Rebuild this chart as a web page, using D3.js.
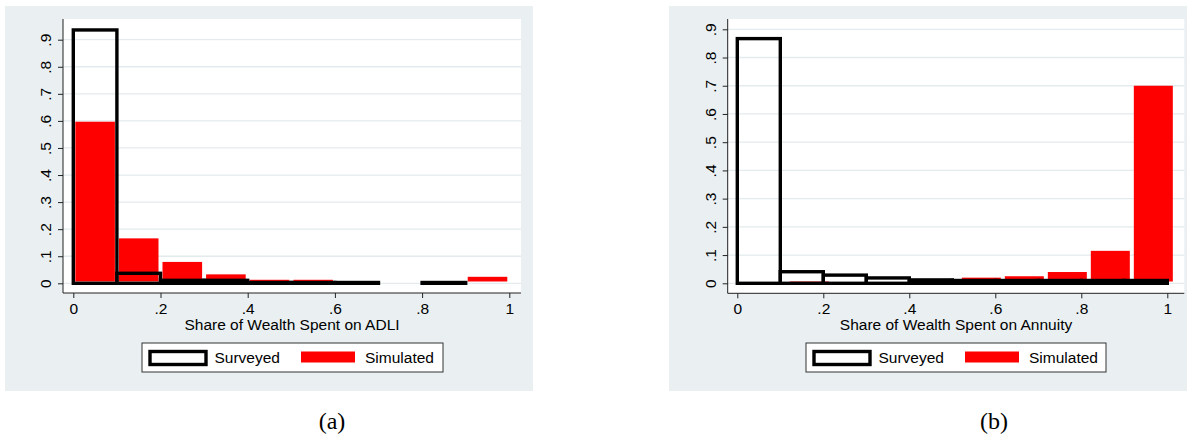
<!DOCTYPE html>
<html>
<head>
<meta charset="utf-8">
<script src="https://cdn.jsdelivr.net/npm/d3@7"></script>
<style>
	body { margin: 0; background: #fff; }
	text { font-family: "Liberation Sans", Arial, sans-serif; fill: #000; }
	.caption { font-family: "Liberation Serif", "Times New Roman", serif; }
</style>
</head>
<body>
<div id="chart"></div>
<script>

// bins (lower edges, width 0.1)
const binStarts = [0, 0.1, 0.2, 0.3, 0.4, 0.5, 0.6, 0.7, 0.8, 0.9];
const simBinStartsB = [0.0175, 0.1175, 0.2175, 0.3175, 0.4175, 0.5175, 0.6175, 0.7175, 0.8175, 0.9175];
const binWidth = 0.1;

// panel (a): ADLI
const surveyedA = [0.936, 0.037, 0.011, 0.011, 0.003, 0.003, 0.003, 0, 0.003, 0];
const simulatedA = [0.597, 0.166, 0.079, 0.033, 0.013, 0.013, 0.004, 0, 0, 0.024];

// panel (b): annuity
const surveyedB = [0.867, 0.041, 0.029, 0.019, 0.012, 0.01, 0.01, 0.01, 0.01, 0.01];
const simulatedB = [0.002, 0.008, 0.004, 0.006, 0.008, 0.02, 0.025, 0.04, 0.115, 0.70];

// axes
const yTicks = [0, 0.1, 0.2, 0.3, 0.4, 0.5, 0.6, 0.7, 0.8, 0.9];
const yTickLabels = ["0", ".1", ".2", ".3", ".4", ".5", ".6", ".7", ".8", ".9"];
const xTicks = [0, 0.2, 0.4, 0.6, 0.8, 1];
const xTickLabels = ["0", ".2", ".4", ".6", ".8", "1"];
const legendLabels = ["Surveyed", "Simulated"];

const width = 1187;
const height = 438;

const svg = d3.select("#chart")
	.append("svg")
		.attr("width", width)
		.attr("height", height);

drawPanel({
	bg: [5, 6, 528, 385],
	plot: [63, 19, 521, 293],
	xRange: [73.3, 509.3],
	yRange: [283.3, 39.7],
	surveyed: surveyedA,
	simulated: simulatedA,
	simStarts: binStarts,
	title: "Share of Wealth Spent on ADLI",
	legend: [141.5, 342.5, 301, 29],
	caption: "(a)",
	captionX: 332
});

drawPanel({
	bg: [669, 6, 530, 385],
	plot: [727.7, 19, 1184.3, 293.3],
	xRange: [737.3, 1167.3],
	yRange: [283.3, 29.3],
	surveyed: surveyedB,
	simulated: simulatedB,
	simStarts: simBinStartsB,
	title: "Share of Wealth Spent on Annuity",
	legend: [805.5, 342.5, 300, 29],
	caption: "(b)",
	captionX: 994
});

function drawPanel(p) {
	const [px0, py0, px1, py1] = p.plot;

	const scaleX = d3.scaleLinear()
		.domain([0, 1])
		.range(p.xRange);

	const scaleY = d3.scaleLinear()
		.domain([0, 0.9])
		.range(p.yRange);

	const g = svg.append("g");

	// graph region and plot region
	g.append("rect")
		.attr("x", p.bg[0]).attr("y", p.bg[1])
		.attr("width", p.bg[2]).attr("height", p.bg[3])
		.attr("fill", "#eaf0f2");

	g.append("rect")
		.attr("x", px0).attr("y", py0)
		.attr("width", px1 - px0).attr("height", py1 - py0)
		.attr("fill", "#fff");

	// grid
	g.selectAll(".grid")
		.data(yTicks).enter()
		.append("line")
			.attr("x1", px0).attr("x2", px1)
			.attr("y1", (d) => scaleY(d)).attr("y2", (d) => scaleY(d))
			.attr("stroke", "#e3ebee")
			.attr("stroke-width", 1.3);

	// simulated bars (red, drawn first)
	const sim = p.simStarts.map((s, i) => ({ x0: s, x1: s + binWidth, v: p.simulated[i] }))
		.filter((d) => d.v > 0);

	g.selectAll(".sim")
		.data(sim).enter()
		.append("rect")
			.attr("x", (d) => scaleX(d.x0) + 2)
			.attr("width", (d) => scaleX(d.x1) - scaleX(d.x0) - 4)
			.attr("y", (d) => scaleY(d.v))
			.attr("height", (d) => Math.max(0, scaleY(0) - 1.8 - scaleY(d.v)))
			.attr("fill", "#ff0000");

	// surveyed bars (black outline)
	const sur = binStarts.map((s, i) => ({ x0: s, x1: s + binWidth, v: p.surveyed[i] }))
		.filter((d) => d.v > 0);

	g.selectAll(".sur")
		.data(sur).enter()
		.append("rect")
			.attr("x", (d) => scaleX(d.x0))
			.attr("width", (d) => scaleX(d.x1) - scaleX(d.x0))
			.attr("y", (d) => scaleY(d.v))
			.attr("height", (d) => scaleY(0) - scaleY(d.v))
			.attr("fill", "none")
			.attr("stroke", "#000")
			.attr("stroke-width", 3.4);

	// y axis
	const yAxis = g.append("g")
		.attr("transform", `translate(${px0},0)`)
		.call(d3.axisLeft(scaleY).tickValues(yTicks).tickSize(5).tickFormat((d, i) => yTickLabels[i]));

	yAxis.select(".domain").attr("d", `M0,${py0}V${py1}`).attr("stroke", "#222");
	yAxis.selectAll(".tick line").attr("stroke", "#222");
	yAxis.selectAll(".tick text")
		.attr("x", null).attr("dy", null)
		.attr("transform", "translate(-12,0) rotate(-90)")
		.attr("text-anchor", "middle")
		.style("font-size", "15.5px");

	// x axis
	const xAxis = g.append("g")
		.attr("transform", `translate(0,${py1})`)
		.call(d3.axisBottom(scaleX).tickValues(xTicks).tickSize(5).tickFormat((d, i) => xTickLabels[i]));

	xAxis.select(".domain").attr("d", `M${px0},0H${px1}`).attr("stroke", "#222");
	xAxis.selectAll(".tick line").attr("stroke", "#222");
	xAxis.selectAll(".tick text")
		.attr("y", 20.5).attr("dy", null)
		.style("font-size", "15.5px");

	g.append("text")
		.text(p.title)
		.attr("x", (px0 + px1) / 2)
		.attr("y", py1 + 36.5)
		.attr("text-anchor", "middle")
		.style("font-size", "15.5px");

	// legend
	const [lx, ly, lw, lh] = p.legend;
	const legend = g.append("g").attr("transform", `translate(${lx},${ly})`);

	legend.append("rect")
		.attr("x", 0.5).attr("y", 0.5)
		.attr("width", lw).attr("height", lh)
		.attr("fill", "#fff")
		.attr("stroke", "#333")
		.attr("stroke-width", 1);

	legend.append("rect")
		.attr("x", 8.5).attr("y", 9)
		.attr("width", 56).attr("height", 13)
		.attr("fill", "#fff")
		.attr("stroke", "#000")
		.attr("stroke-width", 3.4);

	legend.append("rect")
		.attr("x", 159.5).attr("y", 9)
		.attr("width", 54).attr("height", 11)
		.attr("fill", "#ff0000");

	legend.selectAll(".lab")
		.data(legendLabels).enter()
		.append("text")
			.text((d) => d)
			.attr("x", (d, i) => i == 0 ? 73 : 223.5)
			.attr("y", 20)
			.style("font-size", "15.5px");

	// caption
	svg.append("text")
		.attr("class", "caption")
		.text(p.caption)
		.attr("x", p.captionX)
		.attr("y", 429)
		.attr("text-anchor", "middle")
		.style("font-size", "24px");
}

</script>
</body>
</html>
